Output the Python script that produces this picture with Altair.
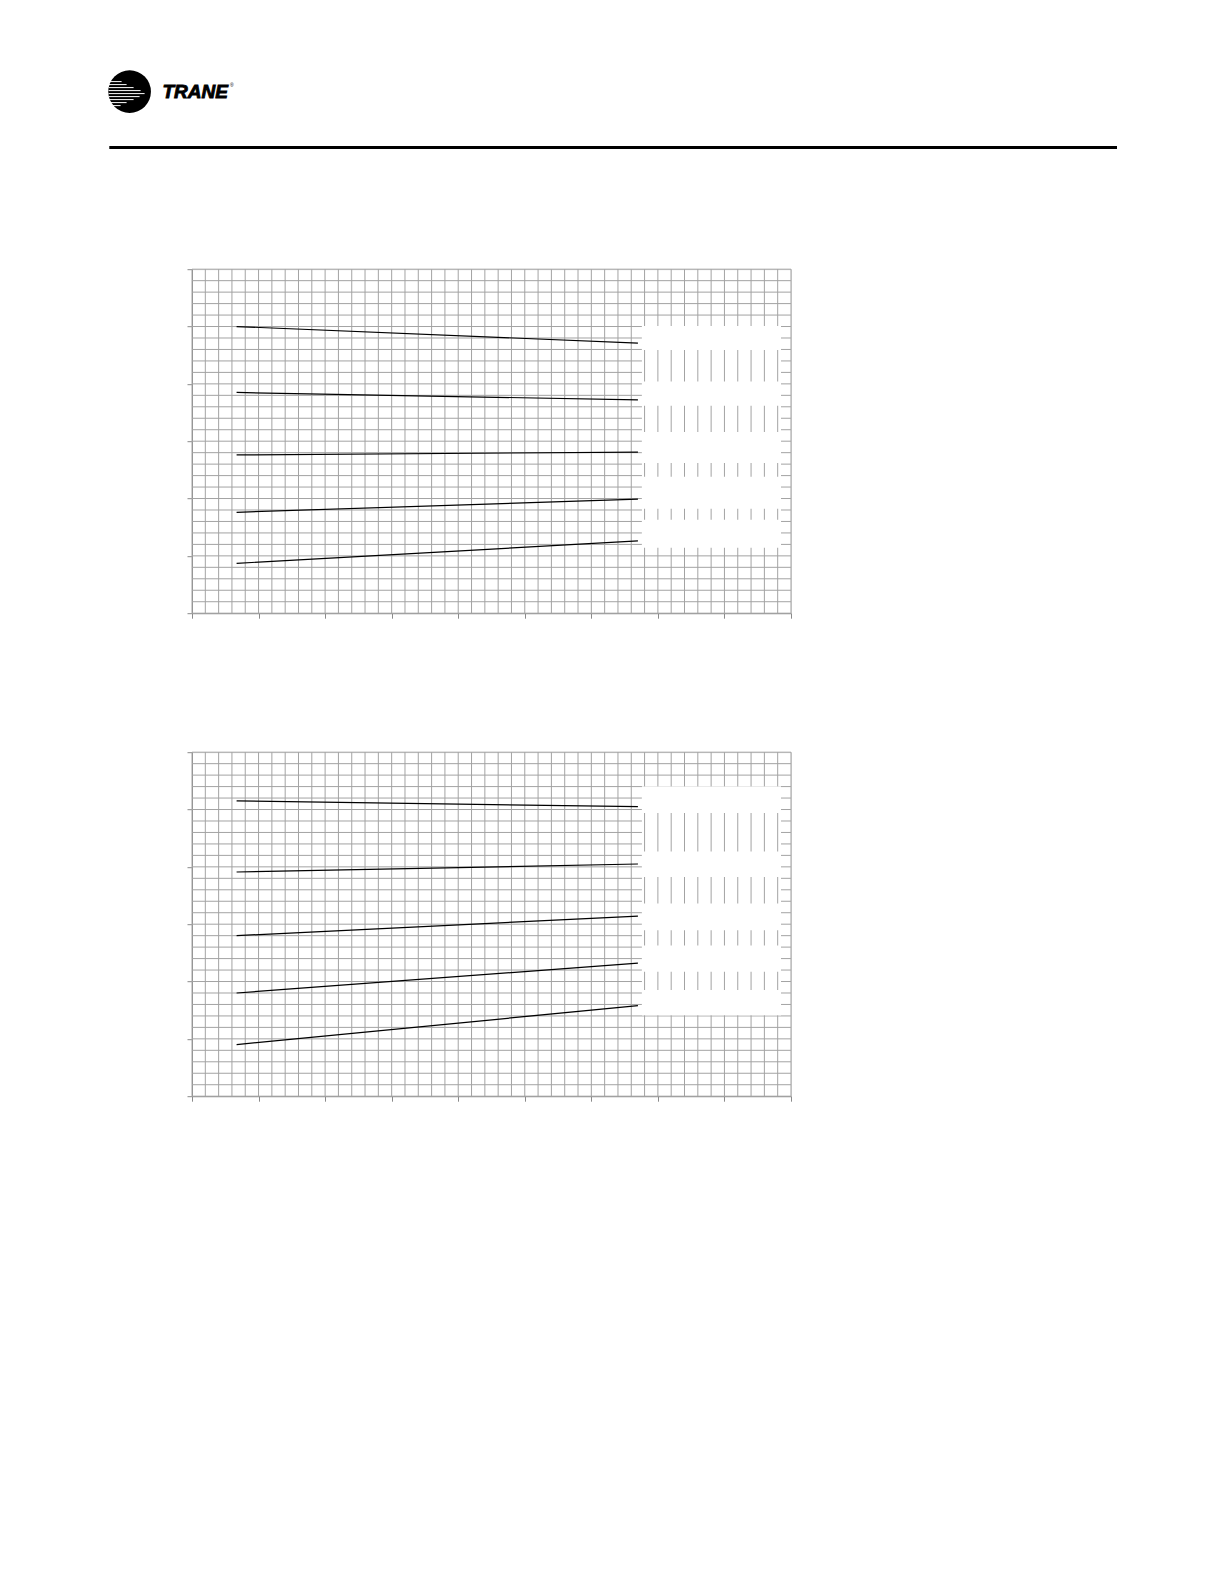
import altair as alt
import pandas as pd

# ---- data ----
x_start = 6.7
x_end = 67
top_start = [50.0, 38.5, 27.6, 17.6, 8.7]
top_end = [47.1, 37.2, 28.1, 19.9, 12.6]
bot_start = [51.5, 39.1, 28.0, 18.0, 9.0]
bot_end = [50.5, 40.5, 31.4, 23.2, 15.8]

legend_x = [67.6, 88.5]
top_legend_y = [11.4, 50.1]
top_box_lo = [45.9, 36.2, 26.2, 18.2, 11.4]
top_box_hi = [50.1, 40.4, 31.6, 23.8, 16.3]
bot_legend_y = [14.1, 54.0]
bot_box_lo = [49.4, 38.25, 28.95, 21.7, 14.1]
bot_box_hi = [54.0, 42.7, 33.6, 26.3, 18.5]

x_domain = [0, 90]
y_domain = [0, 60]
grid_x = list(range(0, 92, 2))
grid_y = list(range(0, 62, 2))
major_x = list(range(0, 100, 10))
major_y = list(range(0, 70, 10))

GRID = "#a3a3a3"
AXIS = "#8a8a8a"
W, H = 599, 344

xs = alt.Scale(domain=x_domain, nice=False, zero=False)
ys = alt.Scale(domain=y_domain, nice=False, zero=False)
xax = alt.Axis(values=major_x, labels=False, title=None, grid=False, tickSize=5,
               tickColor=AXIS, domainColor=AXIS)
yax = alt.Axis(values=major_y, labels=False, title=None, grid=False, tickSize=5,
               tickColor=AXIS, domainColor=AXIS)


def panel(starts, ends, leg_y, box_lo, box_hi):
    hgrid = alt.Chart(pd.DataFrame({"y": grid_y})).mark_rule(
        color=GRID, strokeWidth=1).encode(y=alt.Y("y:Q", scale=ys, axis=yax))
    region = alt.Chart(pd.DataFrame({"x": [legend_x[0]], "x2": [legend_x[1]],
                                     "y": [leg_y[0]], "y2": [leg_y[1]]})).mark_rect(
        color="white").encode(x=alt.X("x:Q", scale=xs, axis=xax), x2="x2:Q",
                              y=alt.Y("y:Q", scale=ys, axis=yax), y2="y2:Q")
    vgrid = alt.Chart(pd.DataFrame({"x": grid_x})).mark_rule(
        color=GRID, strokeWidth=1).encode(x=alt.X("x:Q", scale=xs, axis=xax))
    boxes = alt.Chart(pd.DataFrame({"x": [legend_x[0]] * len(box_lo),
                                    "x2": [legend_x[1]] * len(box_lo),
                                    "y": box_lo, "y2": box_hi})).mark_rect(
        color="white").encode(x=alt.X("x:Q", scale=xs, axis=xax), x2="x2:Q",
                              y=alt.Y("y:Q", scale=ys, axis=yax), y2="y2:Q")
    rows = []
    for i, (s, e) in enumerate(zip(starts, ends)):
        rows.append({"s": i, "x": x_start, "y": s})
        rows.append({"s": i, "x": x_end, "y": e})
    lines = alt.Chart(pd.DataFrame(rows)).mark_line(
        color="black", strokeWidth=1.2).encode(
        x=alt.X("x:Q", scale=xs, axis=xax), y=alt.Y("y:Q", scale=ys, axis=yax),
        detail="s:N")
    return [hgrid, region, vgrid, boxes, lines]


one = pd.DataFrame({"k": [0]})
# page header: logo and rule (pixel positions relative to the first plot area)
header_rule = alt.Chart(one).mark_rule(color="black", strokeWidth=3).encode(
    x=alt.value(-82.7), x2=alt.value(925), y=alt.value(-121.8))
logo = alt.Chart(one).mark_point(filled=True, color="black", size=1820, opacity=1,
                                 shape="circle").encode(
    x=alt.value(-62.4), y=alt.value(-177.6))
stripe_specs = [(-10, -8), (-7, -3), (-4, 4), (-1, 11), (2, 15), (5, 10), (8, 4), (11, -3), (14, -9)]
stripes = []
for dy, xe in stripe_specs:
    stripes.append(alt.Chart(one).mark_rule(color="white", strokeWidth=1).encode(
        x=alt.value(-62.4 - 21), x2=alt.value(-62.4 + xe), y=alt.value(-177.6 + dy)))
trane = alt.Chart(one).mark_text(text="TRANE", font="Liberation Sans", fontSize=19,
                                 fontWeight="bold", fontStyle="italic", align="left",
                                 baseline="alphabetic", color="black", stroke="black",
                                 strokeWidth=0.9).encode(
    x=alt.value(-29.5), y=alt.value(-171))
reg = alt.Chart(one).mark_text(text="®", font="Liberation Sans", fontSize=5,
                               align="left", baseline="middle", color="black").encode(
    x=alt.value(38), y=alt.value(-184))

top = alt.layer(*panel(top_start, top_end, top_legend_y, top_box_lo, top_box_hi),
                header_rule, logo, *stripes, trane, reg).properties(width=W, height=H)
bottom = alt.layer(*panel(bot_start, bot_end, bot_legend_y, bot_box_lo, bot_box_hi)
                   ).properties(width=W, height=H)

chart = alt.vconcat(top, bottom, spacing=139, bounds="flush").properties(
    padding={"left": 99, "top": 61.2, "right": 20, "bottom": 20}
).configure_view(stroke=AXIS, strokeWidth=1).configure(background="white")

chart.save("out.html", embed_options={"renderer": "svg", "actions": False})
